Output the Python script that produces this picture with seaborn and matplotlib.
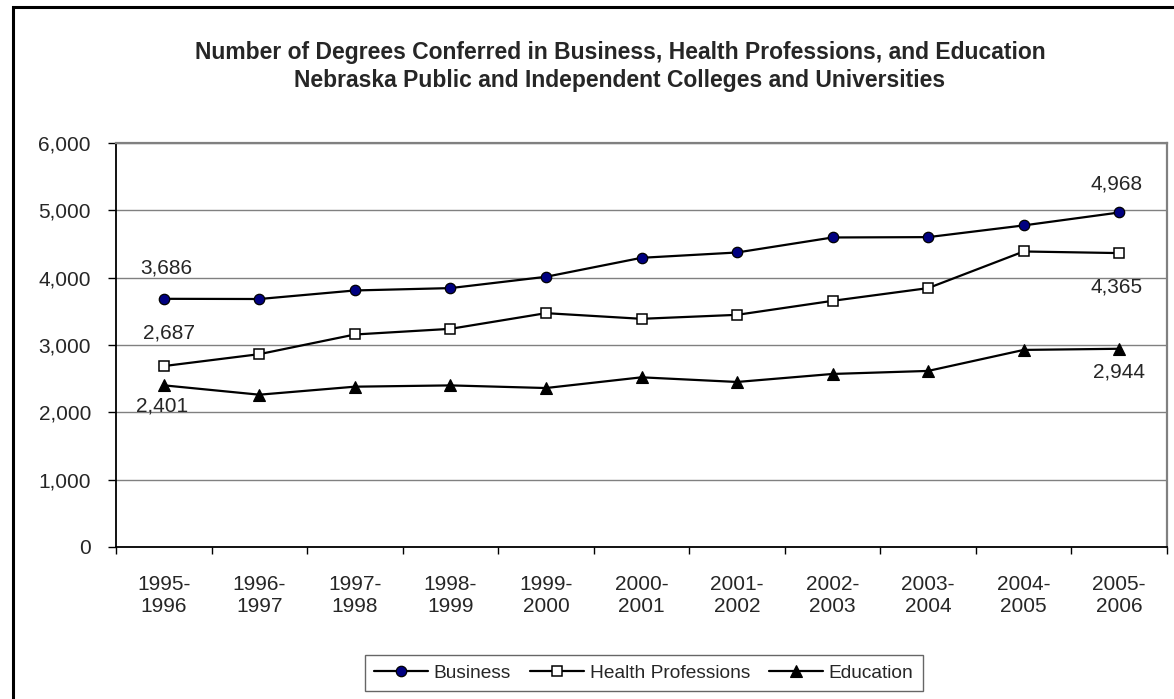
import matplotlib
matplotlib.use("Agg")
import matplotlib.pyplot as plt
from matplotlib.patches import Rectangle
from matplotlib.ticker import FuncFormatter
import numpy as np
import pandas as pd
import seaborn as sns

# academic years (x categories)
years = ['1995-\n1996', '1996-\n1997', '1997-\n1998', '1998-\n1999', '1999-\n2000',
         '2000-\n2001', '2001-\n2002', '2002-\n2003', '2003-\n2004', '2004-\n2005',
         '2005-\n2006']

# degrees conferred
business = [3686, 3683, 3810, 3845, 4013, 4295, 4374, 4597, 4602, 4776, 4968]
health = [2687, 2864, 3156, 3240, 3473, 3389, 3448, 3656, 3845, 4389, 4365]
education = [2401, 2262, 2381, 2400, 2361, 2520, 2451, 2570, 2615, 2927, 2944]

series_names = ['Business', 'Health Professions', 'Education']

df = pd.DataFrame({
    'pos': list(range(len(years))) * 3,
    'value': business + health + education,
    'series': [s for s in series_names for _ in years],
})

sns.set_style("white")
plt.rcParams['font.family'] = ['Liberation Sans', 'DejaVu Sans']

W, H = 1174, 699
fig = plt.figure(figsize=(W / 100, H / 100), dpi=100)
ax = fig.add_axes([116 / W, 1 - 547 / H, (1167 - 116) / W, (547 - 143) / H])

sns.lineplot(data=df, x='pos', y='value', hue='series', style='series',
             hue_order=series_names, style_order=series_names,
             palette={'Business': 'black', 'Health Professions': 'black', 'Education': 'black'},
             markers={'Business': 'o', 'Health Professions': 's', 'Education': '^'},
             dashes=False, linewidth=1.6, ax=ax, legend=False)

# marker styling like the original
mk_style = {
    'Business': dict(markersize=7.5, markerfacecolor='#000080', markeredgecolor='black', markeredgewidth=0.9),
    'Health Professions': dict(markersize=7, markerfacecolor='white', markeredgecolor='black', markeredgewidth=1.1),
    'Education': dict(markersize=9, markerfacecolor='black', markeredgecolor='black', markeredgewidth=0.8),
}
for line, name in zip(ax.get_lines(), series_names):
    line.set_color('black')
    line.set(**mk_style[name])

ax.set_xlim(-0.5, len(years) - 0.5)
ax.set_ylim(0, 6000)
ax.set_yticks(np.arange(0, 6001, 1000))
ax.yaxis.set_major_formatter(FuncFormatter(lambda v, p: f'{int(v):,}'))
ax.grid(axis='y', color='#808080', linewidth=1.0)
ax.set_axisbelow(True)

# category boundaries get the tick marks, centers get the labels
ax.set_xticks(np.arange(-0.5, len(years), 1.0))
ax.set_xticklabels([])
ax.set_xticks(np.arange(len(years)), minor=True)
ax.set_xticklabels(years, minor=True, fontsize=15, linespacing=1.2)
ax.tick_params(axis='x', which='major', direction='out', length=5, width=1, color='black', bottom=True)
ax.tick_params(axis='x', which='minor', length=0, pad=20)
ax.tick_params(axis='y', direction='out', length=6, width=1, color='black', labelsize=15, pad=12, left=True)
ax.set_xlabel('')
ax.set_ylabel('')

for side in ['top', 'right']:
    ax.spines[side].set_color('#808080')
    ax.spines[side].set_linewidth(1.6)
for side in ['left', 'bottom']:
    ax.spines[side].set_color('black')
    ax.spines[side].set_linewidth(1.3)

# data labels for first and last points
lab = dict(fontsize=15, ha='center', va='center', textcoords='offset pixels')
last = len(years) - 1
ax.annotate(f'{business[0]:,}', (0, business[0]), xytext=(3, 31), **lab)
ax.annotate(f'{health[0]:,}', (0, health[0]), xytext=(5, 33), **lab)
ax.annotate(f'{education[0]:,}', (0, education[0]), xytext=(-2, -21), **lab)
ax.annotate(f'{business[last]:,}', (last, business[last]), xytext=(-3, 28), **lab)
ax.annotate(f'{health[last]:,}', (last, health[last]), xytext=(-3, -34), **lab)
ax.annotate(f'{education[last]:,}', (last, education[last]), xytext=(0, -23), **lab)

# title (two lines)
fig.text(620 / W, 1 - 52 / H,
         'Number of Degrees Conferred in Business, Health Professions, and Education',
         ha='center', va='center', fontsize=16.5, fontweight='bold')
fig.text(620 / W, 1 - 80 / H,
         'Nebraska Public and Independent Colleges and Universities',
         ha='center', va='center', fontsize=16.5, fontweight='bold')

# legend below the plot
handles = ax.get_lines()[:3]
leg = ax.legend(handles, series_names, loc='center', ncol=3,
                bbox_to_anchor=(644 / W, 1 - 673 / H), bbox_transform=fig.transFigure,
                fontsize=13.8, frameon=True, fancybox=False, edgecolor='#404040',
                handlelength=2.8, handletextpad=0.3, columnspacing=1.0,
                borderpad=0.5, borderaxespad=0)
leg.get_frame().set_linewidth(1.0)

# outer chart border
fig.patches.append(Rectangle((13 / W, -0.1), 1.2, 1 - 7 / H + 0.1, transform=fig.transFigure,
                             fill=False, edgecolor='black', linewidth=2.2))

fig.savefig('out.png', dpi=100, facecolor='white')
